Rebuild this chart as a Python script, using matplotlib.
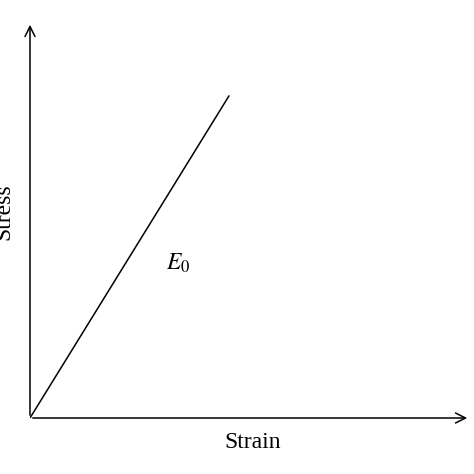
import matplotlib.pyplot as plt

strain = [0.0, 0.452]
stress = [0.0, 0.813]

plt.rcParams['font.family'] = ['Liberation Serif', 'DejaVu Serif']

fig = plt.figure(figsize=(4.74, 4.74), dpi=100)
ax = fig.add_axes([30 / 474, 56 / 474, 440 / 474, 396 / 474])
ax.set_xlim(0, 1)
ax.set_ylim(0, 1)
ax.axis('off')

# axes with arrows
ax.annotate('', xy=(1.0, 0), xytext=(0, 0), xycoords='axes fraction',
            arrowprops=dict(arrowstyle='->', lw=1.1, color='black', mutation_scale=18),
            annotation_clip=False)
ax.annotate('', xy=(0, 1.0), xytext=(0, 0), xycoords='axes fraction',
            arrowprops=dict(arrowstyle='->', lw=1.1, color='black', mutation_scale=18),
            annotation_clip=False)

ax.plot(strain, stress, color='black', lw=1.1)

ax.text(0.31, 0.39, r'$E_0$', fontsize=17, ha='left', va='center',
        fontfamily='serif', math_fontfamily='stix')
fig.text(253 / 474, 1 - 443 / 474, 'Strain', fontsize=17, ha='center', va='center')
fig.text(4 / 474, 1 - 212 / 474, 'Stress', fontsize=17, ha='center', va='center',
         rotation=90)

plt.savefig('out.png', dpi=100)
plt.close()
